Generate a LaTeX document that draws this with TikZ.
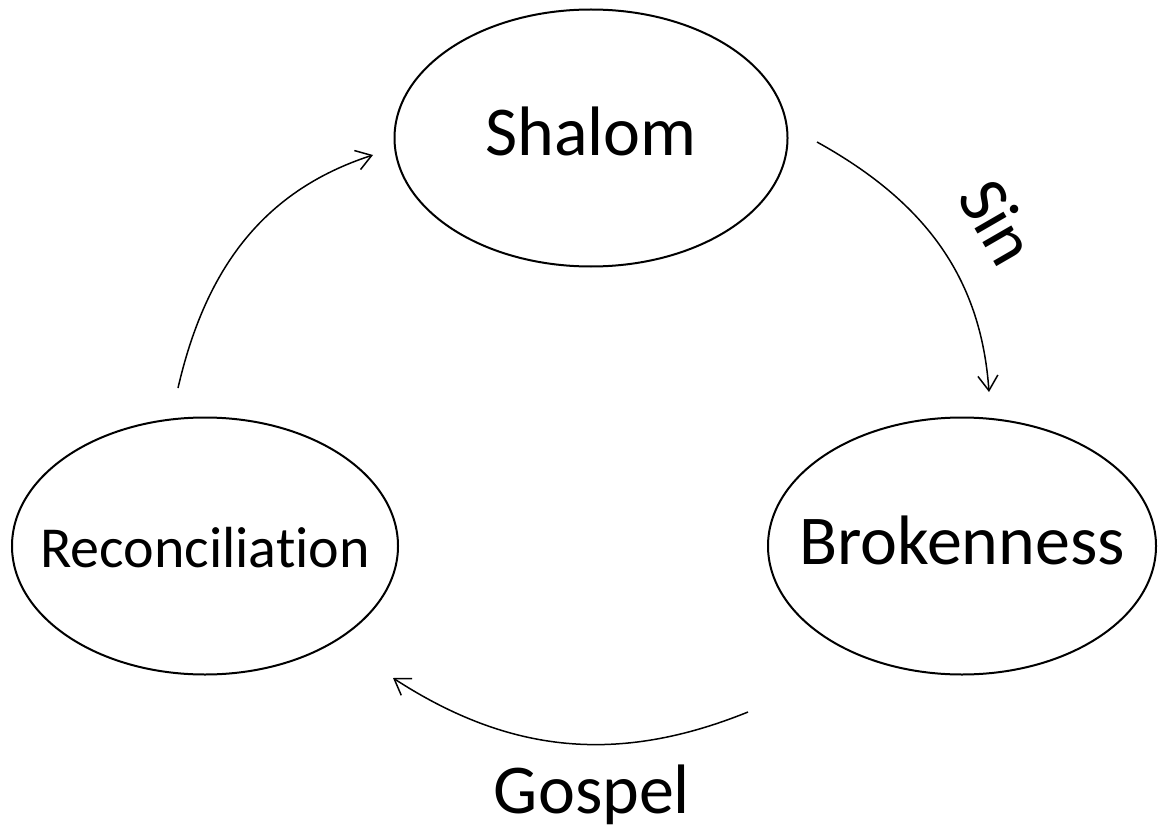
\documentclass[tikz,border=0pt]{standalone}
\usepackage{fontspec}
\setmainfont{Carlito}[Ligatures=NoCommon]
\usetikzlibrary{shapes.geometric,arrows.meta}
\tikzset{
  stage/.style={shape=ellipse, draw, line width=2pt, inner xsep=-45pt, inner ysep=0pt,
    minimum width=390pt, minimum height=257pt, text height=38pt, text depth=2pt,
    font=\fontsize{70}{84}\selectfont},
  turn/.style={line width=1.5pt, -{Straight Barb[length=15pt,width=20pt]}},
  caption/.style={inner sep=0pt, font=\fontsize{70}{84}\selectfont}
}
\begin{document}
\begin{tikzpicture}[x=1pt,y=1pt]
\useasboundingbox (0,0) rectangle (1158,-829);
\begin{scope}[nodes=stage]
  \node (shalom) at (591,-138) [minimum width=393pt] {Shalom};
  \node (broken) at (962,-546) [minimum width=388pt] {Brokenness};
  \node (recon)  at (205,-546) [minimum width=386pt, text height=45pt,
                                font=\fontsize{58}{70}\selectfont] {Reconciliation};
\end{scope}
\node[caption, rotate=-60]  (sin)    at (998,-222) {Sin};
\node[caption, anchor=base] (gospel) at (592,-813) {Gospel};
% free ends of the three arrows
\coordinate (sin-from)    at (817,-142);
\coordinate (sin-to)      at (989,-392);
\coordinate (gospel-from) at (748,-712);
\coordinate (gospel-to)   at (393,-678);
\coordinate (back-from)   at (178,-388);
\coordinate (back-to)     at (373,-155);
\path[turn] (sin-from)    edge[out=-29,  in=94]  (sin-to)
            (gospel-from) edge[out=-158, in=-33] (gospel-to)
            (back-from)   edge[out=77,   in=-162] (back-to);
\end{tikzpicture}
\end{document}
